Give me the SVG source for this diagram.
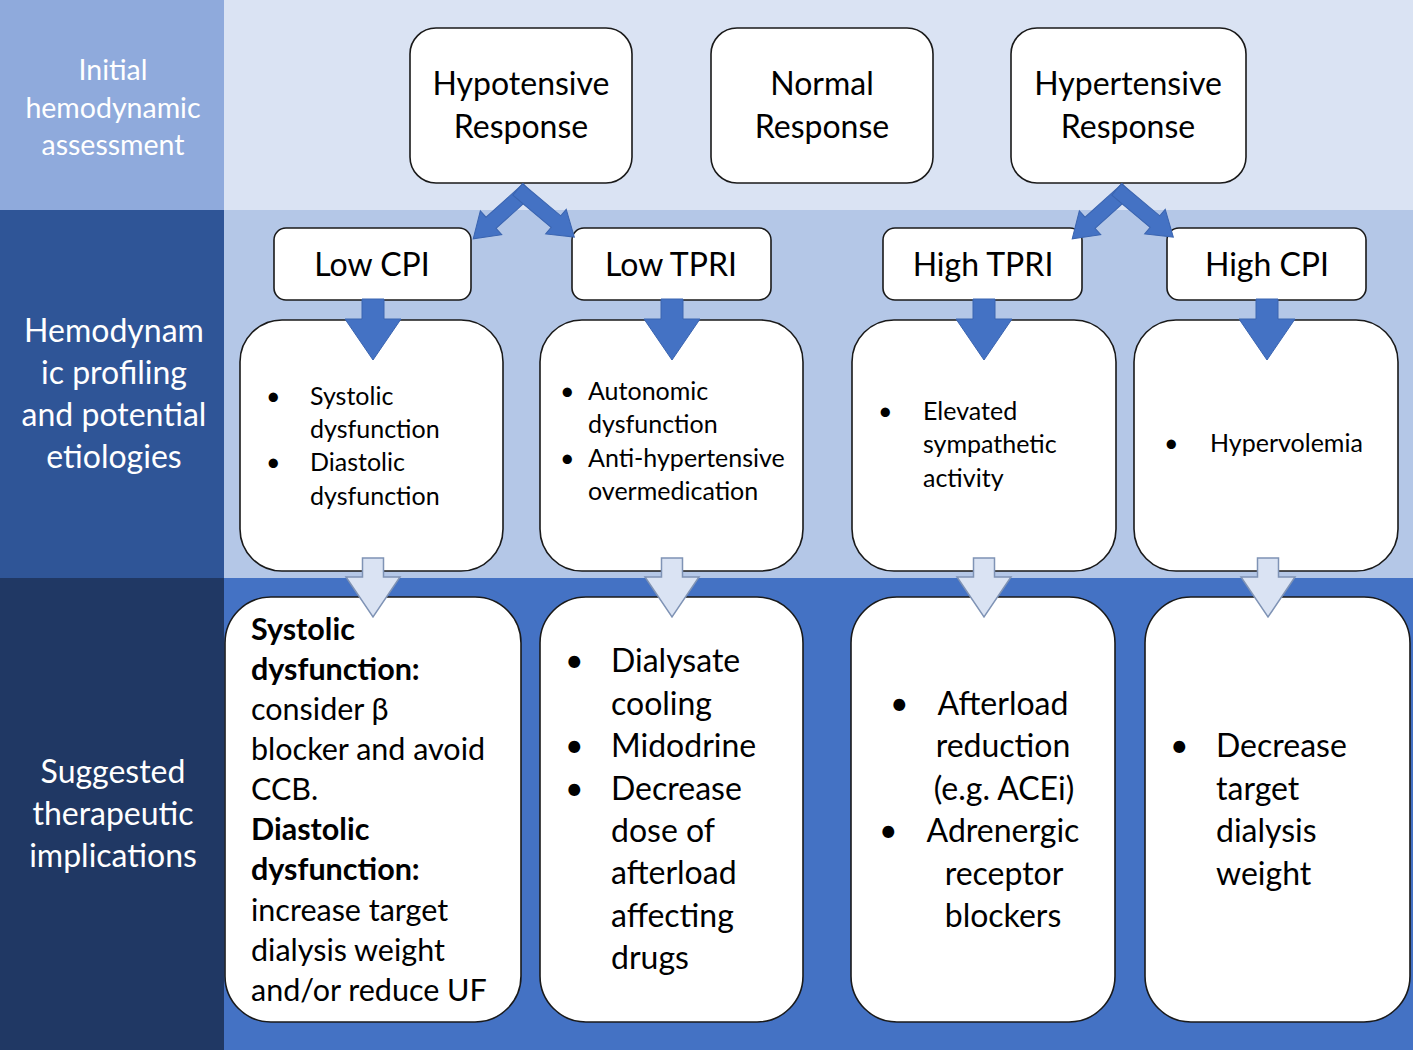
<svg xmlns="http://www.w3.org/2000/svg" width="1418" height="1055" viewBox="0 0 1418 1055">
<style>
text{font-family:Lato,"Open Sans","Liberation Sans",sans-serif;fill:#000}
.hdr{fill:#fff;text-anchor:middle}
.node{fill:#fff;stroke:#1a1a1a;stroke-width:1.6}
.c{text-anchor:middle}
.b{font-weight:bold}
.darr{fill:#4472c4;stroke:#3a64b0;stroke-width:1}
.larr{fill:#dae3f3;stroke:#7f93b5;stroke-width:1.5}
</style>
<defs>
<polygon id="dbl" points="-7,-7.5 43,-7.5 43,-16 67,0 43,16 43,7.5 -7,7.5"/>
<polygon id="down" points="-11,299 11,299 11,319 28,319 0,360 -28,319 -11,319"/>
<polygon id="ldown" points="-10.5,558 10.5,558 10.5,577 27,577 0,617 -27,577 -10.5,577"/>
</defs>
<g id="bands">
<rect x="0" y="0" width="1413" height="1050" fill="#4472c4"/>
<rect x="224" y="0" width="1189" height="210" fill="#dae3f3"/>
<rect x="224" y="210" width="1189" height="368" fill="#b4c7e7"/>
<rect x="0" y="0" width="224" height="210" fill="#8faadc"/>
<rect x="0" y="210" width="224" height="368" fill="#2f5597"/>
<rect x="0" y="578" width="224" height="472" fill="#203864"/>
</g>
<g id="lbl-initial" font-size="28.5">
<text class="hdr" x="113" y="80">Initial</text>
<text class="hdr" x="113" y="118">hemodynamic</text>
<text class="hdr" x="113" y="155">assessment</text>
</g>
<g id="lbl-profiling" font-size="32">
<text class="hdr" x="114" y="342">Hemodynam</text>
<text class="hdr" x="114" y="384">ic profiling</text>
<text class="hdr" x="114" y="426">and potential</text>
<text class="hdr" x="114" y="468">etiologies</text>
</g>
<g id="lbl-therapeutic" font-size="32">
<text class="hdr" x="113" y="783">Suggested</text>
<text class="hdr" x="113" y="825">therapeutic</text>
<text class="hdr" x="113" y="867">implications</text>
</g>
<g id="n-hypotensive" font-size="32">
<rect class="node" x="410" y="28" width="222" height="155" rx="26"/>
<text class="c" x="521" y="95">Hypotensive</text>
<text class="c" x="521" y="138">Response</text>
</g>
<g id="n-normal" font-size="32">
<rect class="node" x="711" y="28" width="222" height="155" rx="26"/>
<text class="c" x="822" y="95">Normal</text>
<text class="c" x="822" y="138">Response</text>
</g>
<g id="n-hypertensive" font-size="32">
<rect class="node" x="1011" y="28" width="235" height="155" rx="26"/>
<text class="c" x="1128" y="95">Hypertensive</text>
<text class="c" x="1128" y="138">Response</text>
</g>
<g id="n-lowcpi" font-size="32">
<rect class="node" x="274" y="228" width="197" height="72" rx="12"/>
<text class="c" x="372" y="276">Low CPI</text>
</g>
<g id="n-lowtpri" font-size="32">
<rect class="node" x="572" y="228" width="199" height="72" rx="12"/>
<text class="c" x="671" y="276">Low TPRI</text>
</g>
<g id="n-hightpri" font-size="32">
<rect class="node" x="883" y="228" width="199" height="72" rx="12"/>
<text class="c" x="983" y="276">High TPRI</text>
</g>
<g id="n-highcpi" font-size="32">
<rect class="node" x="1167" y="228" width="199" height="72" rx="12"/>
<text class="c" x="1267" y="276">High CPI</text>
</g>
<g id="n-etio1" font-size="25">
<rect class="node" x="240" y="320" width="263" height="251" rx="42"/>
<text x="266" y="405">•</text><text x="310" y="405">Systolic</text>
<text x="310" y="438">dysfunction</text>
<text x="266" y="471">•</text><text x="310" y="471">Diastolic</text>
<text x="310" y="505">dysfunction</text>
</g>
<g id="n-etio2" font-size="25">
<rect class="node" x="540" y="320" width="263" height="251" rx="42"/>
<text x="560" y="400">•</text><text x="588" y="400">Autonomic</text>
<text x="588" y="433">dysfunction</text>
<text x="560" y="467">•</text><text x="588" y="467">Anti-hypertensive</text>
<text x="588" y="500">overmedication</text>
</g>
<g id="n-etio3" font-size="25">
<rect class="node" x="852" y="320" width="264" height="251" rx="42"/>
<text x="878" y="420">•</text><text x="923" y="420">Elevated</text>
<text x="923" y="453">sympathetic</text>
<text x="923" y="487">activity</text>
</g>
<g id="n-etio4" font-size="25">
<rect class="node" x="1134" y="320" width="264" height="251" rx="42"/>
<text x="1164" y="452">•</text><text x="1210" y="452">Hypervolemia</text>
</g>
<g id="n-ther1" font-size="30.5">
<rect class="node" x="225" y="597" width="296" height="425" rx="46"/>
<text class="b" x="251" y="640">Systolic</text>
<text class="b" x="251" y="680">dysfunction:</text>
<text x="251" y="720">consider β</text>
<text x="251" y="760">blocker and avoid</text>
<text x="251" y="800">CCB.</text>
<text class="b" x="251" y="840">Diastolic</text>
<text class="b" x="251" y="880">dysfunction:</text>
<text x="251" y="921">increase target</text>
<text x="251" y="961">dialysis weight</text>
<text x="251" y="1001">and/or reduce UF</text>
</g>
<g id="n-ther2" font-size="32">
<rect class="node" x="540" y="597" width="263" height="425" rx="46"/>
<text x="565" y="672">•</text><text x="611" y="672">Dialysate</text>
<text x="611" y="715">cooling</text>
<text x="565" y="757">•</text><text x="611" y="757">Midodrine</text>
<text x="565" y="800">•</text><text x="611" y="800">Decrease</text>
<text x="611" y="842">dose of</text>
<text x="611" y="884">afterload</text>
<text x="611" y="927">affecting</text>
<text x="611" y="969">drugs</text>
</g>
<g id="n-ther3" font-size="32">
<rect class="node" x="851" y="597" width="264" height="425" rx="46"/>
<text x="890" y="715">•</text><text class="c" x="1003" y="715">Afterload</text>
<text class="c" x="1003" y="757">reduction</text>
<text class="c" x="1004" y="800">(e.g. ACEi)</text>
<text x="879" y="842">•</text><text class="c" x="1003" y="842">Adrenergic</text>
<text class="c" x="1004" y="885">receptor</text>
<text class="c" x="1003" y="927">blockers</text>
</g>
<g id="n-ther4" font-size="32">
<rect class="node" x="1145" y="597" width="265" height="425" rx="46"/>
<text x="1170" y="757">•</text><text x="1216" y="757">Decrease</text>
<text x="1216" y="800">target</text>
<text x="1216" y="842">dialysis</text>
<text x="1216" y="885">weight</text>
</g>
<g id="connectors">
<use href="#dbl" class="darr" transform="translate(523,194) rotate(138)"/>
<use href="#dbl" class="darr" transform="translate(523,194) rotate(40)"/>
<use href="#dbl" class="darr" transform="translate(1122,194) rotate(138)"/>
<use href="#dbl" class="darr" transform="translate(1122,194) rotate(40)"/>
<use href="#down" class="darr" stroke="none" transform="translate(373,0)"/>
<use href="#down" class="darr" transform="translate(672,0)"/>
<use href="#down" class="darr" transform="translate(984,0)"/>
<use href="#down" class="darr" transform="translate(1267,0)"/>
<use href="#ldown" class="larr" transform="translate(373,0)"/>
<use href="#ldown" class="larr" transform="translate(672,0)"/>
<use href="#ldown" class="larr" transform="translate(984,0)"/>
<use href="#ldown" class="larr" transform="translate(1268,0)"/>
</g>
</svg>
